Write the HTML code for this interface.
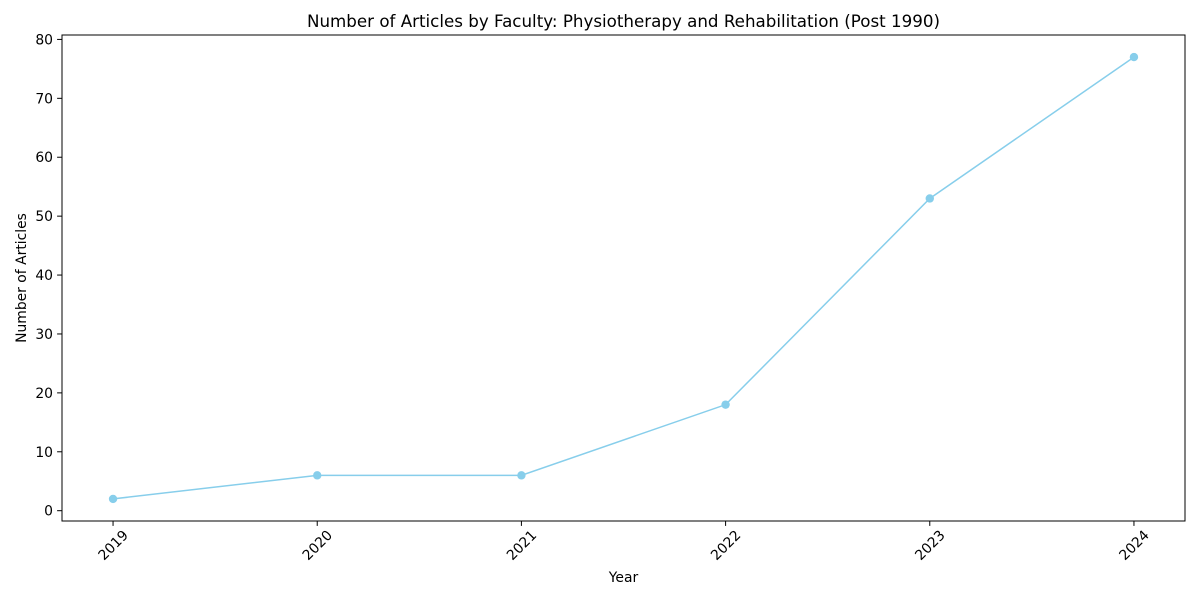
<!DOCTYPE html>
<html><head><meta charset="utf-8"><style>
body{margin:0;background:#fff;}
svg text{font-family:"DejaVu Sans","Liberation Sans",sans-serif;fill:#000;}
</style></head><body>
<svg id="chart" width="1200" height="600">
<text x="623.5" y="27" font-size="16.7" text-anchor="middle">Number of Articles by Faculty: Physiotherapy and Rehabilitation (Post 1990)</text>
<g id="yticks"></g>
<g id="xticks"></g>
<g id="series"></g>
<rect x="62" y="35" width="1123" height="486" fill="none" stroke="#000" stroke-width="1"/>
<text x="623.5" y="582" font-size="13.9" text-anchor="middle">Year</text>
<text transform="translate(26,278) rotate(-90)" font-size="13.9" text-anchor="middle">Number of Articles</text>
</svg>
<script>
const years = [2019, 2020, 2021, 2022, 2023, 2024];
const articles = [2, 6, 6, 18, 53, 77];
const yTicks = [0, 10, 20, 30, 40, 50, 60, 70, 80];

const NS = "http://www.w3.org/2000/svg";
const L = 62, R = 1185, T = 35, B = 521;
const xMin = 2018.75, xMax = 2024.25, yMin = -1.75, yMax = 80.75;
const xs = v => L + (v - xMin) / (xMax - xMin) * (R - L);
const ys = v => B - (v - yMin) / (yMax - yMin) * (B - T);
function mk(tag, attrs, parent) {
  const e = document.createElementNS(NS, tag);
  for (const k in attrs) e.setAttribute(k, attrs[k]);
  parent.appendChild(e);
  return e;
}
const yg = document.getElementById('yticks');
yTicks.forEach(v => {
  const y = ys(v);
  const t = mk('line', {x1: L - 4.9, x2: L, y1: y, y2: y, stroke: '#000'}, yg);
  
  
  const tx = mk('text', {x: L - 9, y: y + 5, 'font-size': 13.9, 'text-anchor': 'end'}, yg);
  tx.textContent = v;
  
  
});
const xg = document.getElementById('xticks');
years.forEach(v => {
  const x = xs(v);
  const t = mk('line', {x1: x, x2: x, y1: B, y2: B + 4.9, stroke: '#000'}, xg);
  
  
  const tx = mk('text', {'font-size': 13.9, 'text-anchor': 'middle', dy: '0.35em', transform: `translate(${x},545) rotate(-45)`}, xg);
  tx.textContent = v;
  
  
});
const sg = document.getElementById('series');
const pts = years.map((v, i) => xs(v) + ',' + ys(articles[i])).join(' ');
const pl = mk('polyline', {points: pts, fill: 'none', stroke: '#87ceeb', 'stroke-width': 1.5}, sg);


years.forEach((v, i) => {
  const c = mk('circle', {cx: xs(v), cy: ys(articles[i]), r: 4.2, fill: '#87ceeb'}, sg);
  
  
});
</script>
</body></html>
